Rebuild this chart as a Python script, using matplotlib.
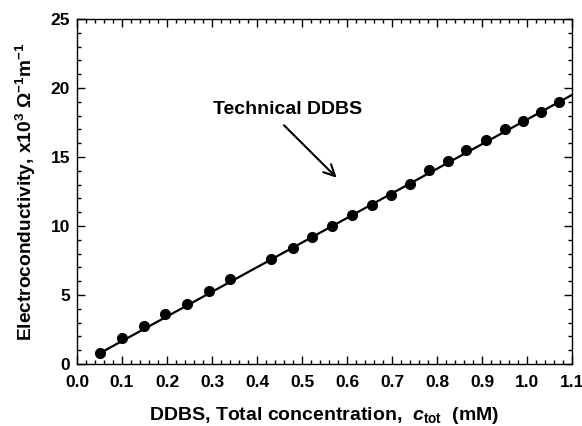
import matplotlib
matplotlib.use("Agg")
import matplotlib.pyplot as plt
from matplotlib.ticker import MultipleLocator, FormatStrFormatter

plt.rcParams['font.family'] = ['Liberation Sans', 'DejaVu Sans']
plt.rcParams['font.weight'] = 'bold'
plt.rcParams['mathtext.fontset'] = 'custom'
plt.rcParams['mathtext.rm'] = 'Liberation Sans:bold'
plt.rcParams['mathtext.bf'] = 'Liberation Sans:bold'
plt.rcParams['mathtext.it'] = 'Liberation Sans:bold:italic'

conc = [0.05, 0.10, 0.149, 0.196, 0.244, 0.293, 0.339, 0.430, 0.479, 0.522,
        0.567, 0.611, 0.655, 0.698, 0.741, 0.783, 0.824, 0.865, 0.908, 0.950,
        0.990, 1.030, 1.070]
kappa = [0.77, 1.91, 2.78, 3.60, 4.37, 5.31, 6.16, 7.63, 8.43, 9.20,
         10.02, 10.82, 11.52, 12.27, 13.02, 14.06, 14.71, 15.50, 16.23, 17.03,
         17.63, 18.24, 18.96]
fit_x = [0.05, 1.10]
fit_y = [0.77, 19.50]

fig = plt.figure(figsize=(5.82, 4.26), dpi=100)
ax = fig.add_axes([77/582, 1 - 364/426, (572-77)/582, (364-19)/426])

ax.plot(fit_x, fit_y, color='black', lw=1.6)
ax.plot(conc, kappa, 'o', color='black', ms=7)

ax.set_xlim(0, 1.1)
ax.set_ylim(0, 25)
ax.xaxis.set_major_locator(MultipleLocator(0.1))
ax.xaxis.set_minor_locator(MultipleLocator(0.02))
ax.yaxis.set_major_locator(MultipleLocator(5))
ax.yaxis.set_minor_locator(MultipleLocator(1))
ax.xaxis.set_major_formatter(FormatStrFormatter('%.1f'))
ax.tick_params(which='both', direction='in', top=True, right=True, labelsize=12.5, width=1)
ax.tick_params(which='major', length=6)
ax.tick_params(which='minor', length=3)
ax.tick_params(axis='x', which='major', pad=8)
ax.tick_params(axis='y', which='major', pad=5)
for s in ax.spines.values():
    s.set_linewidth(1)

ax.set_xlabel(r'DDBS, Total concentration,  $c_{\mathrm{tot}}$  (mM)', fontsize=14, fontweight='bold', labelpad=11)
ax.set_ylabel(r'Electroconductivity, x10$^{3}$ $\Omega^{-1}$m$^{-1}$', fontsize=13.8, fontweight='bold', labelpad=9)

ax.text(0.467, 18.45, 'Technical DDBS', ha='center', va='center',
        fontsize=14, fontweight='bold')
ax.annotate('', xy=(0.577, 13.5), xytext=(0.46, 17.3),
            arrowprops=dict(arrowstyle='->', color='black', lw=1.5,
                            shrinkA=0, shrinkB=0, mutation_scale=20))

fig.savefig('out.png', dpi=100)
